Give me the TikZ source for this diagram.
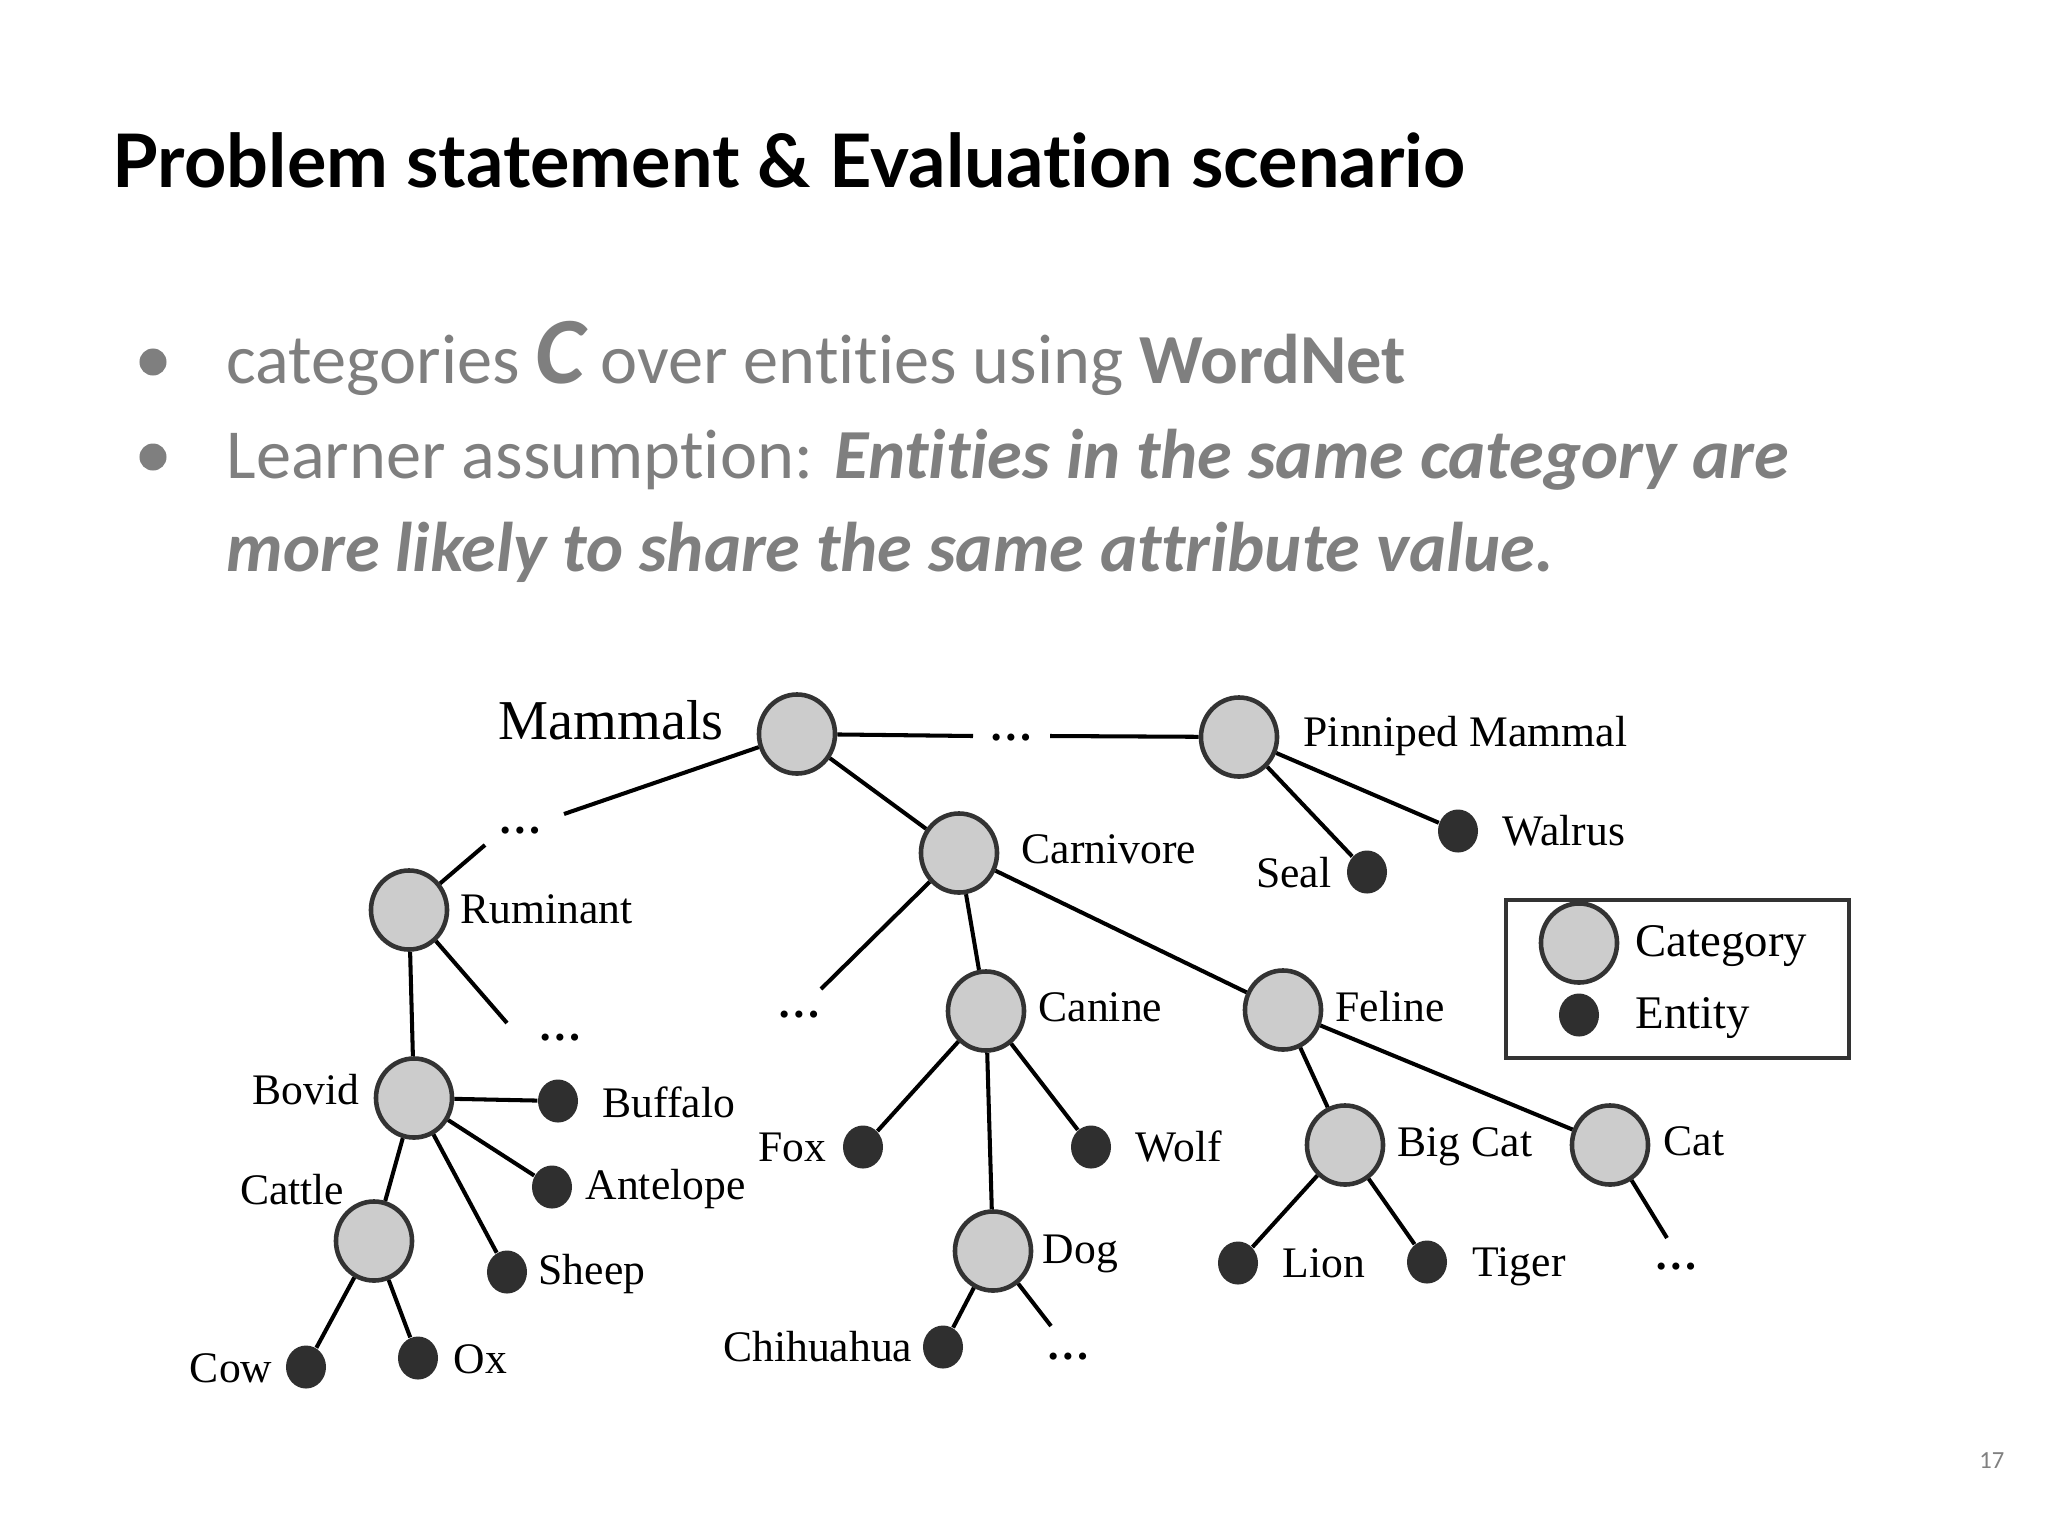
\documentclass[tikz,border=0pt]{standalone}
\usepackage{fontspec}
\setmainfont{Liberation Serif}
\newfontfamily\titlefont[Ligatures=NoCommon]{Lato}
\newfontfamily\bodyfont[Ligatures=NoCommon]{Carlito}
\usetikzlibrary{shapes.geometric}
\definecolor{catfill}{HTML}{CCCCCC}
\definecolor{catdraw}{HTML}{333333}
\definecolor{entfill}{HTML}{2F2F2F}
\definecolor{bodygray}{HTML}{7F7F7F}
\begin{document}
\begin{tikzpicture}[x=0.01cm,y=-0.01cm,
 cat/.style={ellipse, draw=catdraw, fill=catfill, line width=1.3pt, minimum width=0.76cm, minimum height=0.79cm, inner sep=0pt},
 ent/.style={ellipse, fill=entfill, minimum width=0.40cm, minimum height=0.43cm, inner sep=0pt},
 lab/.style={font=\fontsize{12.4}{14}\selectfont, inner sep=0pt},
 labr/.style={lab, anchor=base west},
 labl/.style={lab, anchor=base east},
 dotstxt/.style={font=\fontsize{12.4}{14}\selectfont\bfseries, inner sep=0pt, anchor=base},
 edge/.style={line width=1.15pt, black},
 bodytext/.style={anchor=base west, inner sep=0pt, text=bodygray, font=\bodyfont\fontsize{20}{24}\selectfont},
 bullet/.style={circle, fill=bodygray, minimum size=0.27cm, inner sep=0pt}]
\useasboundingbox (0,0) rectangle (2048,1536);
\fill[white] (0,0) rectangle (2048,1536);

% title
\node[anchor=base west, inner sep=0pt, font=\titlefont\bfseries\fontsize{21}{25}\selectfont] (title) at (112,187) {Problem statement \& Evaluation scenario};

% bullets
\node[bullet] (b1) at (153,362) {};
\node[bullet] (b2) at (153,457) {};
\node[bodytext] (l1) at (226,383) {categories {\fontsize{27}{28}\selectfont\bfseries\itshape C} over entities using \textbf{WordNet}};
\node[bodytext] (l2) at (226,478) {Learner assumption: \textbf{\itshape Entities in the same category are}};
\node[bodytext] (l3) at (226,571) {\textbf{\itshape more likely to share the same attribute value.}};

% page number
\node[anchor=base east, inner sep=0pt, text=gray, font=\bodyfont\fontsize{7}{8}\selectfont] (pg) at (2005,1468) {17};

% category nodes
\node[cat] (mam) at (797,734) {};
\node[cat] (pin) at (1239,737) {};
\node[cat] (car) at (959,853) {};
\node[cat] (rum) at (409,910) {};
\node[cat] (can) at (986,1011) {};
\node[cat] (fel) at (1283,1010) {};
\node[cat] (bov) at (414,1098) {};
\node[cat] (cat) at (374,1241) {};
\node[cat] (dog) at (993,1251) {};
\node[cat] (big) at (1345,1145) {};
\node[cat] (kat) at (1610,1145) {};

% entity nodes
\node[ent] (wal) at (1458,831) {};
\node[ent] (sea) at (1367,872) {};
\node[ent] (buf) at (558,1101) {};
\node[ent] (ant) at (552,1187) {};
\node[ent] (she) at (507,1272) {};
\node[ent] (cow) at (306,1367) {};
\node[ent] (ox) at (418,1358) {};
\node[ent] (fox) at (863,1147) {};
\node[ent] (wol) at (1091,1147) {};
\node[ent] (chi) at (943,1347) {};
\node[ent] (lio) at (1238,1263) {};
\node[ent] (tig) at (1427,1262) {};

% free ends
\coordinate (ma) at (973,736);
\coordinate (mb) at (1050,736);
\coordinate (ula) at (564,814);
\coordinate (ulb) at (485,845);
\coordinate (rume) at (507,1023);
\coordinate (care) at (821,989);
\coordinate (doge) at (1051,1326);
\coordinate (kate) at (1667,1238);

% ellipses
\node[dotstxt] (d1) at (1011,740) {\ldots};
\node[dotstxt] (d2) at (520,833) {\ldots};
\node[dotstxt] (d3) at (560,1040) {\ldots};
\node[dotstxt] (d4) at (799,1017) {\ldots};
\node[dotstxt] (d5) at (1068,1359) {\ldots};
\node[dotstxt] (d6) at (1676,1269) {\ldots};

% edges
\draw[edge] (mam) -- (ma);
\draw[edge] (mb) -- (pin);
\draw[edge] (mam) -- (ula);
\draw[edge] (ulb) -- (rum);
\draw[edge] (mam) -- (car);
\draw[edge] (pin) -- (sea);
\draw[edge] (pin) -- (wal);
\draw[edge] (rum) -- (bov);
\draw[edge] (rum) -- (rume);
\draw[edge] (bov) -- (buf);
\draw[edge] (bov) -- (ant);
\draw[edge] (bov) -- (she);
\draw[edge] (bov) -- (cat);
\draw[edge] (cat) -- (cow);
\draw[edge] (cat) -- (ox);
\draw[edge] (car) -- (care);
\draw[edge] (car) -- (can);
\draw[edge] (car) -- (fel);
\draw[edge] (can) -- (fox);
\draw[edge] (can) -- (wol);
\draw[edge] (can) -- (dog);
\draw[edge] (dog) -- (chi);
\draw[edge] (dog) -- (doge);
\draw[edge] (fel) -- (big);
\draw[edge] (fel) -- (kat);
\draw[edge] (big) -- (lio);
\draw[edge] (big) -- (tig);
\draw[edge] (kat) -- (kate);

% labels
\node[lab, anchor=base west, font=\fontsize{16}{18}\selectfont] (tmam) at (498,739) {Mammals};
\node[labr] (tpin) at (1303,746) {Pinniped Mammal};
\node[labr] (tcar) at (1021,863) {Carnivore};
\node[labr] (trum) at (460,923) {Ruminant};
\node[labr] (twal) at (1502,845) {Walrus};
\node[labl] (tsea) at (1332,887) {Seal};
\node[labr] (tcan) at (1038,1021) {Canine};
\node[labr] (tfel) at (1335,1021) {Feline};
\node[labl] (tbov) at (360,1104) {Bovid};
\node[labr] (tbuf) at (602,1117) {Buffalo};
\node[labl] (tfox) at (827,1161) {Fox};
\node[labr] (twol) at (1135,1161) {Wolf};
\node[labr] (tbig) at (1397,1156) {Big Cat};
\node[labr] (tkat) at (1663,1155) {Cat};
\node[labr] (tant) at (585,1199) {Antelope};
\node[labl] (tcat) at (345,1204) {Cattle};
\node[labr] (tdog) at (1042,1263) {Dog};
\node[labr] (tlio) at (1282,1277) {Lion};
\node[labr] (ttig) at (1472,1276) {Tiger};
\node[labr] (tshe) at (538,1284) {Sheep};
\node[labl] (tchi) at (913,1361) {Chihuahua};
\node[labr] (tox) at (453,1373) {Ox};
\node[labl] (tcow) at (273,1382) {Cow};

% legend
\draw[catdraw, line width=0.9pt] (1506,900) rectangle (1849,1058);
\node[cat] (lcat) at (1579,943) {};
\node[ent] (lent) at (1579,1015) {};
\node[lab, anchor=base west, font=\fontsize{13.3}{16}\selectfont] (tlcat) at (1635,956) {Category};
\node[lab, anchor=base west, font=\fontsize{13.3}{16}\selectfont] (tlent) at (1635,1028) {Entity};
\end{tikzpicture}
\end{document}
